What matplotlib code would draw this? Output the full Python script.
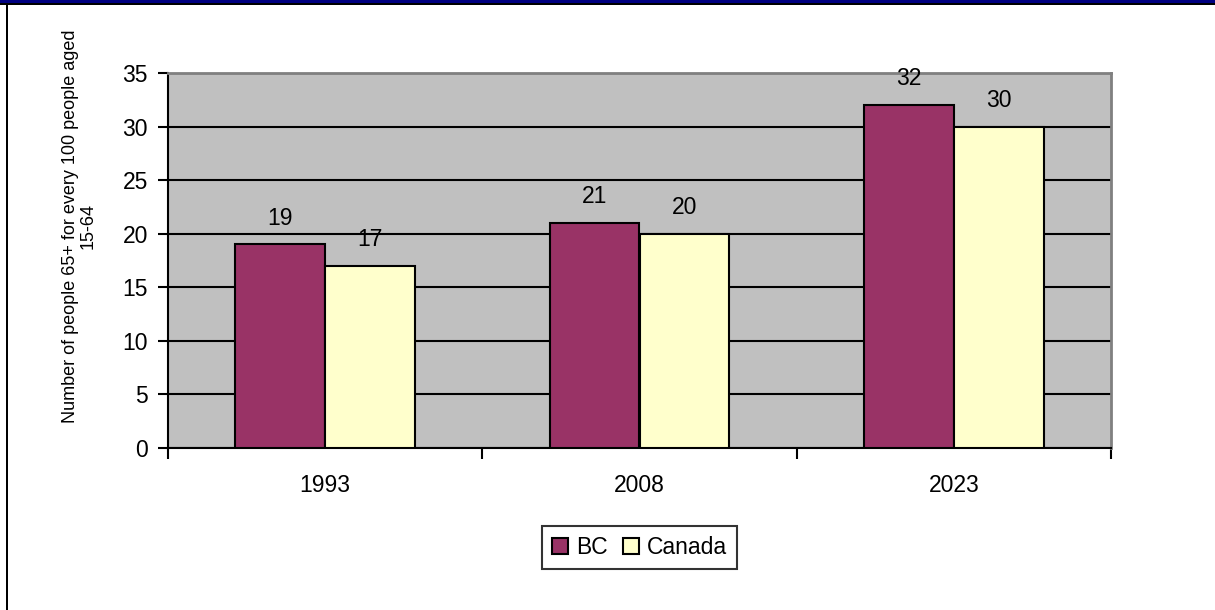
import matplotlib
matplotlib.use("Agg")
import matplotlib.pyplot as plt
from matplotlib.patches import Rectangle
import numpy as np

categories = ["1993", "2008", "2023"]
series_names = ["BC", "Canada"]
bc_values = [19, 21, 32]
canada_values = [17, 20, 30]
y_ticks = [0, 5, 10, 15, 20, 25, 30, 35]
y_label = "Number of people 65+ for every 100 people aged\n15-64"

colors = ["#993366", "#FFFFCC"]

plt.rcParams['font.family'] = ['Liberation Sans', 'DejaVu Sans']
FS = 16.5

W, H = 1215, 610
fig = plt.figure(figsize=(W / 100, H / 100), dpi=100)
fig.patch.set_facecolor("white")

# figure frame: navy band on top, black line below it and on the left
fig.add_artist(Rectangle((0, 1 - 3.3 / H), 1, 3.3 / H, transform=fig.transFigure,
                         facecolor="#000080", edgecolor="none"))
fig.add_artist(Rectangle((0, 1 - 5 / H), 1, 1.7 / H, transform=fig.transFigure,
                         facecolor="black", edgecolor="none"))
fig.add_artist(Rectangle((6 / W, 0), 2.2 / W, 1 - 3.3 / H, transform=fig.transFigure,
                         facecolor="black", edgecolor="none"))

left, right, top, bottom = 168, 1111, 73, 448
ax = fig.add_axes([left / W, 1 - bottom / H, (right - left) / W, (bottom - top) / H])
ax.set_facecolor("#C0C0C0")

x = np.arange(len(categories))
bw = 0.286
b1 = ax.bar(x - bw / 2, bc_values, bw, color=colors[0], edgecolor="black",
            linewidth=1.5, zorder=3, label=series_names[0])
b2 = ax.bar(x + bw / 2, canada_values, bw, color=colors[1], edgecolor="black",
            linewidth=1.5, zorder=3, label=series_names[1])

for bars, vals in ((b1, bc_values), (b2, canada_values)):
    for r, v in zip(bars, vals):
        ax.annotate(str(v), (r.get_x() + r.get_width() / 2, v),
                    xytext=(0, 19), textcoords="offset points",
                    ha="center", va="center", fontsize=FS, zorder=4)

ax.set_ylim(0, 35)
ax.set_xlim(-0.5, len(categories) - 0.5)
ax.set_yticks(y_ticks)
ax.yaxis.grid(True, color="black", linewidth=1.5, zorder=1)
ax.set_axisbelow(True)
ax.tick_params(axis="y", direction="out", length=7, width=1.5, labelsize=FS, pad=7.5)

ax.set_xticks(np.arange(-0.5, len(categories), 1.0))
ax.set_xticklabels([])
ax.set_xticks(x, minor=True)
ax.set_xticklabels(categories, minor=True)
ax.tick_params(axis="x", which="major", direction="out", length=8, width=1.5)
ax.tick_params(axis="x", which="minor", length=0, labelsize=FS, pad=19)

for s in ("left", "bottom"):
    ax.spines[s].set_color("black")
    ax.spines[s].set_linewidth(1.5)
for s in ("top", "right"):
    ax.spines[s].set_color("#808080")
    ax.spines[s].set_linewidth(2)

fig.text(79 / W, 1 - 226 / H, y_label, rotation=90, ha="center", va="center",
         multialignment="center", fontsize=13, linespacing=1.05)

leg = fig.legend(handles=[b1, b2], loc="center", bbox_to_anchor=(639.5 / W, 1 - 547.5 / H),
                 ncol=2, frameon=True, fancybox=False, shadow=False, fontsize=FS,
                 handlelength=0.7, handleheight=0.7, handletextpad=0.35,
                 columnspacing=0.65, borderpad=0.45, borderaxespad=0)
leg.get_frame().set_edgecolor("black")
leg.get_frame().set_linewidth(1.5)

fig.savefig("out.png", dpi=100)
